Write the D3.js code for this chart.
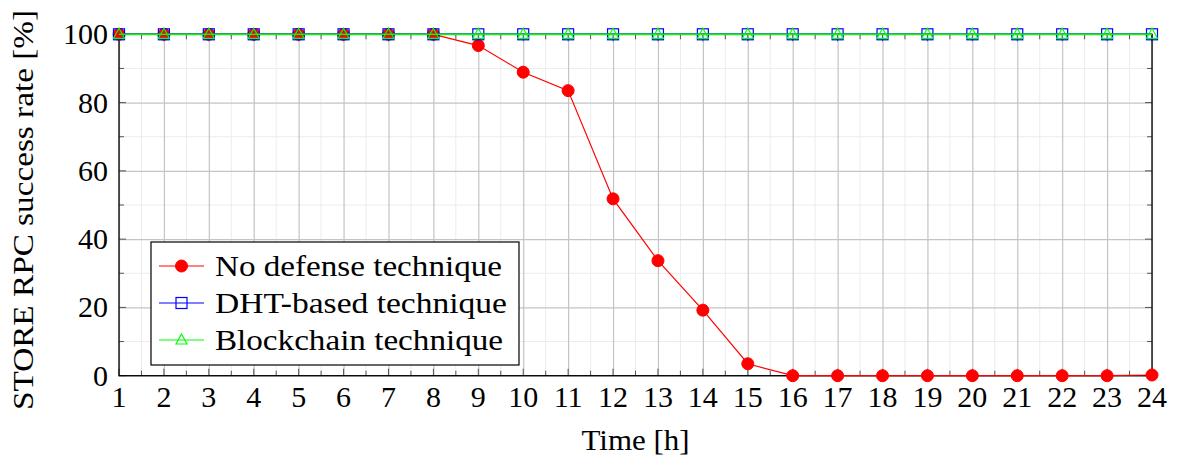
<!DOCTYPE html>
<html>
<head>
<meta charset="utf-8">
<script src="https://cdn.jsdelivr.net/npm/d3@7"></script>
<style>
  body { margin: 0; background: #fff; }
  svg text { font-family: "Liberation Serif", "Times New Roman", serif; fill: #000; }
</style>
</head>
<body>
<div id="viz"></div>
<script>
// data
let hours = [1, 2, 3, 4, 5, 6, 7, 8, 9, 10, 11, 12, 13, 14, 15, 16, 17, 18, 19, 20, 21, 22, 23, 24];
let noDefense = [100, 100, 100, 100, 100, 100, 100, 100, 96.7, 88.9, 83.5, 51.8, 33.7, 19.2, 3.5, 0, 0, 0, 0, 0, 0, 0, 0, 0.2];
let dhtBased = [100, 100, 100, 100, 100, 100, 100, 100, 100, 100, 100, 100, 100, 100, 100, 100, 100, 100, 100, 100, 100, 100, 100, 100];
let blockchain = [100, 100, 100, 100, 100, 100, 100, 100, 100, 100, 100, 100, 100, 100, 100, 100, 100, 100, 100, 100, 100, 100, 100, 100];
let yTicks = [0, 20, 40, 60, 80, 100];
let yMinor = [10, 30, 50, 70, 90];
let seriesNames = ["No defense technique", "DHT-based technique", "Blockchain technique"];

let W = 1181, H = 461;
let margin = { top: 34.3, right: 29, bottom: 85.3, left: 119 };
let width = W - margin.left - margin.right;
let height = H - margin.top - margin.bottom;

let svg = d3.select("#viz").append("svg")
    .attr("width", W)
    .attr("height", H);

let g = svg.append("g")
    .attr("transform", `translate(${margin.left},${margin.top})`);

let xScale = d3.scaleLinear().domain([1, 24]).range([0, width]);
let yScale = d3.scaleLinear().domain([0, 100]).range([height, 0]);

let xMinor = hours.slice(0, -1).map(d => d + 0.5);

// minor grid
g.append("g").selectAll("line")
    .data(xMinor).enter().append("line")
    .attr("x1", d => xScale(d)).attr("x2", d => xScale(d))
    .attr("y1", 0).attr("y2", height)
    .attr("stroke", "#ececec").attr("stroke-width", 1);
g.append("g").selectAll("line")
    .data(yMinor).enter().append("line")
    .attr("y1", d => yScale(d)).attr("y2", d => yScale(d))
    .attr("x1", 0).attr("x2", width)
    .attr("stroke", "#ececec").attr("stroke-width", 1);

// major grid
g.append("g")
  .attr("class", "grid")
  .attr("transform", `translate(0,${height})`)
  .call(d3.axisBottom(xScale).tickValues(hours).tickSize(-height).tickFormat(""))
  .call(s => s.select(".domain").remove())
  .call(s => s.selectAll("line").attr("stroke", "#c4c4c4").attr("stroke-width", 1.2));

g.append("g")
  .attr("class", "grid")
  .call(d3.axisLeft(yScale).tickValues(yTicks).tickSize(-width).tickFormat(""))
  .call(s => s.select(".domain").remove())
  .call(s => s.selectAll("line").attr("stroke", "#c4c4c4").attr("stroke-width", 1.2));

// inward ticks on all four sides
function tickMarks(vals, len, vertical) {
    vals.forEach(v => {
        if (vertical) {
            let x = xScale(v);
            g.append("line").attr("x1", x).attr("x2", x).attr("y1", height).attr("y2", height - len)
                .attr("stroke", "#555").attr("stroke-width", 1);
            g.append("line").attr("x1", x).attr("x2", x).attr("y1", 0).attr("y2", len)
                .attr("stroke", "#555").attr("stroke-width", 1);
        } else {
            let y = yScale(v);
            g.append("line").attr("x1", 0).attr("x2", len).attr("y1", y).attr("y2", y)
                .attr("stroke", "#555").attr("stroke-width", 1);
            g.append("line").attr("x1", width).attr("x2", width - len).attr("y1", y).attr("y2", y)
                .attr("stroke", "#555").attr("stroke-width", 1);
        }
    });
}
tickMarks(hours, 7, true);
tickMarks(xMinor, 5, true);
tickMarks(yTicks, 7, false);
tickMarks(yMinor, 5, false);

// frame
g.append("rect")
    .attr("x", 0).attr("y", 0).attr("width", width).attr("height", height)
    .attr("fill", "none").attr("stroke", "#000").attr("stroke-width", 1.3);

// tick labels
g.append("g").selectAll("text")
    .data(hours).enter().append("text")
    .attr("x", d => xScale(d))
    .attr("y", height + 31.5)
    .attr("text-anchor", "middle")
    .style("font-size", "30px")
    .text(d => d);

g.append("g").selectAll("text")
    .data(yTicks).enter().append("text")
    .attr("x", -11)
    .attr("y", d => yScale(d) + 10)
    .attr("text-anchor", "end")
    .style("font-size", "30px")
    .text(d => d);

// axis titles
g.append("text")
    .attr("x", width / 2)
    .attr("y", height + 74.5)
    .attr("text-anchor", "middle")
    .style("font-size", "30px")
    .attr("textLength", 108)
    .attr("lengthAdjust", "spacingAndGlyphs")
    .text("Time [h]");

svg.append("text")
    .attr("transform", "translate(33,210) rotate(-90)")
    .attr("text-anchor", "middle")
    .style("font-size", "30px")
    .attr("textLength", 400)
    .attr("lengthAdjust", "spacingAndGlyphs")
    .text("STORE RPC success rate [%]");

// series
let series = [
    { name: seriesNames[0], values: noDefense, color: "#ff0000", marker: "circle" },
    { name: seriesNames[1], values: dhtBased, color: "#0000ff", marker: "square" },
    { name: seriesNames[2], values: blockchain, color: "#00ff00", marker: "triangle" }
];

let line = d3.line()
    .x(d => xScale(d.x))
    .y(d => yScale(d.y));

function drawMarker(sel, type, color) {
    if (type === "circle") {
        sel.append("circle").attr("r", 6).attr("fill", color).attr("stroke", color);
    } else if (type === "square") {
        sel.append("rect").attr("x", -5.5).attr("y", -5.5).attr("width", 11).attr("height", 11)
            .attr("fill", "none").attr("stroke", color).attr("stroke-width", 1.2);
    } else {
        sel.append("path").attr("d", "M0,-6 L5.5,4 L-5.5,4 Z")
            .attr("fill", "none").attr("stroke", color).attr("stroke-width", 1.2);
    }
}

series.forEach(s => {
    let pts = hours.map((h, i) => ({ x: h, y: s.values[i] }));
    g.append("path")
        .datum(pts)
        .attr("fill", "none")
        .attr("stroke", s.color)
        .attr("stroke-width", s.marker === "circle" ? 1.2 : 1.6)
        .attr("d", line);
    g.append("g").selectAll("g")
        .data(pts).enter().append("g")
        .attr("transform", d => `translate(${xScale(d.x)},${yScale(d.y)})`)
        .each(function () { drawMarker(d3.select(this), s.marker, s.color); });
});

// legend
let legend = svg.append("g");
legend.append("rect")
    .attr("x", 151).attr("y", 242).attr("width", 368).attr("height", 123)
    .attr("fill", "#fff").attr("stroke", "#000").attr("stroke-width", 1.2);

let legendRows = [266, 303, 340];
let legendLen = [287, 292, 288];
series.forEach((s, i) => {
    let y = legendRows[i];
    legend.append("line")
        .attr("x1", 159).attr("x2", 204).attr("y1", y).attr("y2", y)
        .attr("stroke", s.color).attr("stroke-width", 1.2);
    let m = legend.append("g").attr("transform", `translate(181.5,${y})`);
    drawMarker(m, s.marker, s.color);
    legend.append("text")
        .attr("x", 215).attr("y", y + 10)
        .style("font-size", "30px")
        .attr("textLength", legendLen[i])
        .attr("lengthAdjust", "spacingAndGlyphs")
        .text(s.name);
});
</script>
</body>
</html>
